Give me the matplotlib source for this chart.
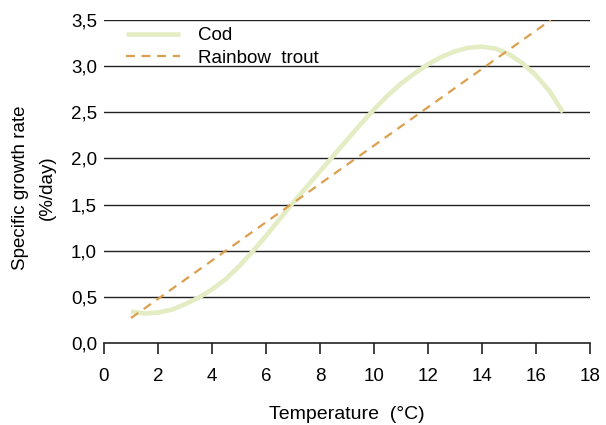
import matplotlib
matplotlib.use("Agg")
import matplotlib.pyplot as plt
from matplotlib.ticker import FuncFormatter

plt.rcParams['font.family'] = ['Liberation Sans', 'DejaVu Sans']

cod_x = [1.0, 1.5, 2.0, 2.5, 3.0, 3.5, 4.0, 4.5, 5.0, 5.5, 6.0, 6.5, 7.0, 7.5,
         8.0, 8.5, 9.0, 9.5, 10.0, 10.5, 11.0, 11.5, 12.0, 12.5, 13.0, 13.5,
         14.0, 14.5, 15.0, 15.5, 16.0, 16.5, 17.0]
cod_y = [0.34, 0.32, 0.33, 0.36, 0.42, 0.49, 0.58, 0.69, 0.83, 0.99, 1.16, 1.34,
         1.52, 1.69, 1.86, 2.03, 2.20, 2.37, 2.53, 2.68, 2.81, 2.92, 3.02, 3.10,
         3.16, 3.20, 3.21, 3.19, 3.13, 3.03, 2.90, 2.73, 2.50]
trout_x = [1.0, 16.55]
trout_y = [0.27, 3.5]

x_ticks = [0, 2, 4, 6, 8, 10, 12, 14, 16, 18]
y_ticks = [0.0, 0.5, 1.0, 1.5, 2.0, 2.5, 3.0, 3.5]

fig = plt.figure(figsize=(6.06, 4.25), dpi=100)
ax = fig.add_axes([0.1716, 0.193, 0.802, 0.760])

for yv in y_ticks[1:]:
    ax.axhline(yv, color='#222222', lw=1.0, zorder=1)

ax.plot(cod_x, cod_y, color='#e4ecc4', lw=3.3, solid_capstyle='butt',
        solid_joinstyle='round', label='Cod', zorder=2)
ax.plot(trout_x, trout_y, color='#dc9f4e', lw=1.6, ls=(0, (4, 3)),
        label='Rainbow  trout', zorder=3)

ax.set_xlim(0, 18)
ax.set_ylim(0, 3.5)
ax.set_xticks(x_ticks)
ax.set_yticks(y_ticks)
ax.yaxis.set_major_formatter(FuncFormatter(lambda v, p: f"{v:.1f}".replace('.', ',')))

for s in ['top', 'right', 'left']:
    ax.spines[s].set_visible(False)
ax.spines['bottom'].set_color('#222222')
ax.spines['bottom'].set_linewidth(1.2)
ax.tick_params(axis='x', direction='out', length=8, width=1.2, color='#222222',
               labelsize=13.5, pad=10)
ax.tick_params(axis='y', length=0, labelsize=13.5, pad=5)

ax.set_xlabel('Temperature  (°C)', fontsize=14)
ax.xaxis.set_label_coords(0.5, -0.195)
ax.set_ylabel('Specific growth rate\n(%/day)', fontsize=13.5, linespacing=1.7)
ax.yaxis.set_label_coords(-0.10, 0.48)

leg = ax.legend(loc='upper left', bbox_to_anchor=(0.01, 1.03), frameon=False,
                fontsize=13.5, handlelength=2.9, handletextpad=0.95,
                labelspacing=0.3)

fig.savefig('out.png', dpi=100)
